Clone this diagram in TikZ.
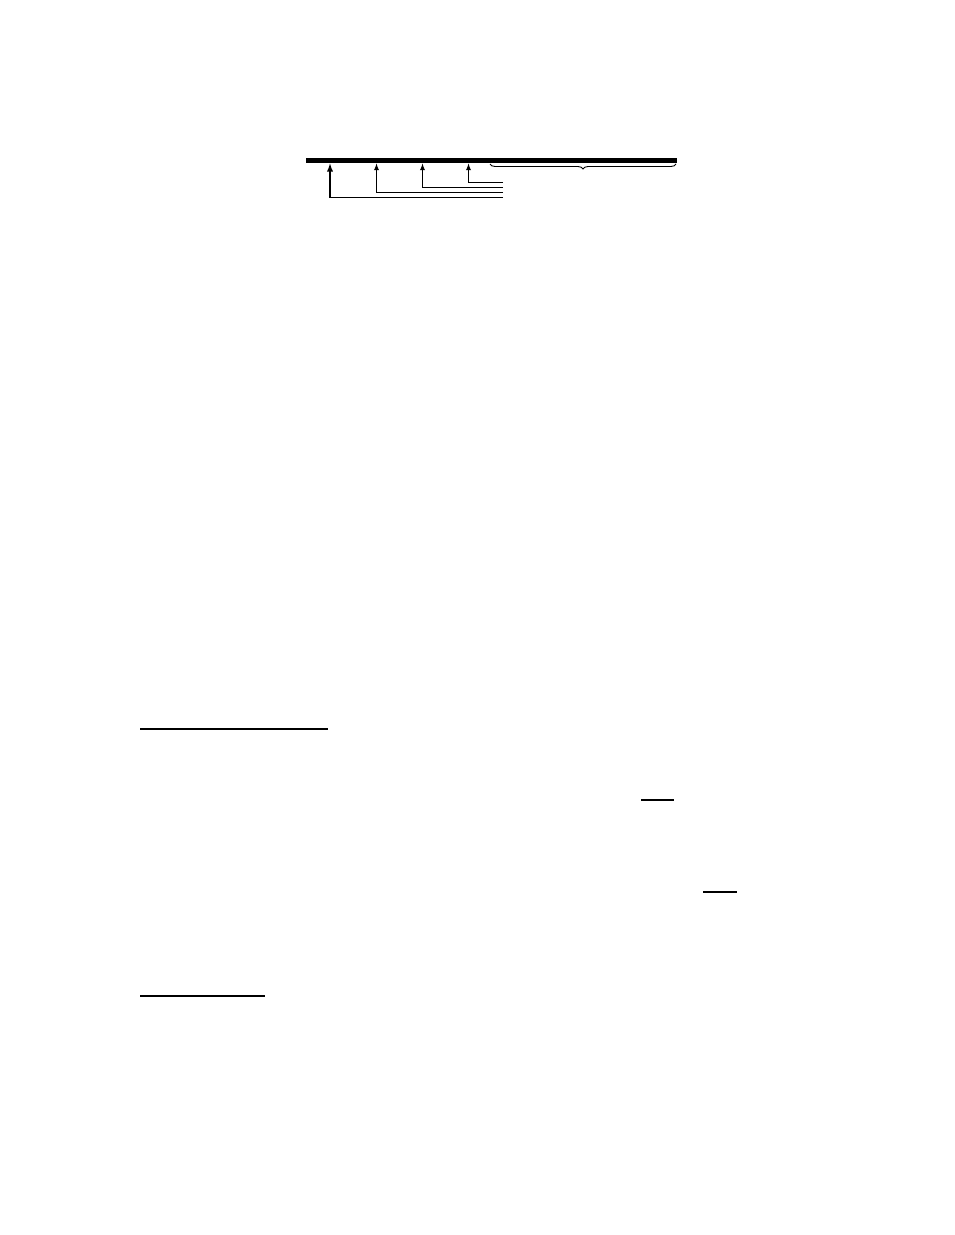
\documentclass[tikz,border=0pt]{standalone}
\usepackage{amsmath}
\usepackage{amssymb}
\usetikzlibrary{decorations.pathreplacing}

\begin{document}
\begin{tikzpicture}[x=1pt, y=-1pt, feed/.style = {draw, line width=1.3pt, -latex}, rule/.style = {line width=2pt}]
\useasboundingbox (0,0) rectangle (954,1235);
\draw[line width=5pt] (306,160.5) coordinate (bl) -- (677,160.5) coordinate (br);
\coordinate (e1) at (503,197.5);
\coordinate (e2) at (503,192.5);
\coordinate (e3) at (503,187.5);
\coordinate (e4) at (503,182.5);
\draw[feed, line width=1.8pt] (e1) -| (330,163.5);
\draw[feed] (e2) -| (376.5,163.5);
\draw[feed] (e3) -| (422.5,163.5);
\draw[feed] (e4) -| (468.5,163.5);
\draw[decorate, decoration={brace, mirror, amplitude=5pt}, line width=0.9pt] (490,164) -- (676,164);

\draw[rule] (140,729) -- (328,729);
\draw[rule] (641,800) -- (674,800);
\draw[rule] (703,892) -- (737,892);
\draw[rule] (140,996) -- (265,996);

\end{tikzpicture}
\end{document}
